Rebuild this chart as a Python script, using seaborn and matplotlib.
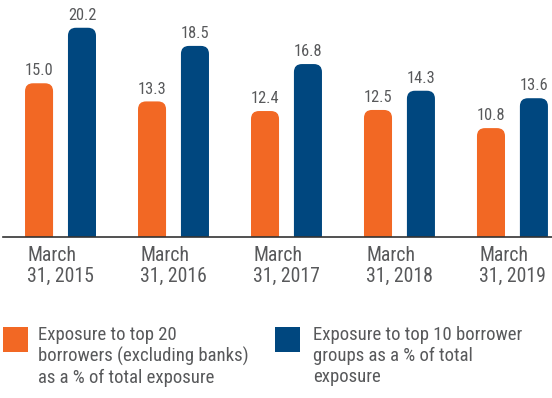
import numpy as np
import pandas as pd
import seaborn as sns
import matplotlib
matplotlib.use("Agg")
import matplotlib.pyplot as plt
from matplotlib.patches import FancyBboxPatch, Rectangle

# ---- data ----
categories = ["March\n31, 2015", "March\n31, 2016", "March\n31, 2017",
              "March\n31, 2018", "March\n31, 2019"]
top20_borrowers = [15.0, 13.3, 12.4, 12.5, 10.8]
top10_groups = [20.2, 18.5, 16.8, 14.3, 13.6]
series_labels = ["Exposure to top 20\nborrowers (excluding banks)\nas a % of total exposure",
                 "Exposure to top 10 borrower\ngroups as a % of total\nexposure"]
colors = ["#F26824", "#00477F"]

df = pd.DataFrame({
    "period": categories * 2,
    "value": top20_borrowers + top10_groups,
    "series": [series_labels[0]] * len(categories) + [series_labels[1]] * len(categories),
})

sns.set_theme(style="white")
plt.rcParams["font.family"] = ["Roboto Condensed", "DejaVu Sans"]
txt_color = "#58595B"

W, H = 552, 398
fig = plt.figure(figsize=(W / 100, H / 100), dpi=100)
ax = fig.add_axes([3 / W, 161 / H, 549 / W, 237 / H])

sns.barplot(data=df, x="period", y="value", hue="series", palette=colors,
            width=0.76, gap=0.347, saturation=1, legend=False, ax=ax)

x0, x1 = -0.509, 4.35
y0, y1 = 0.6, 22.8
ax.set_xlim(x0, x1)
ax.set_ylim(y0, y1)

# rounded tops
px_per_x = 549 / (x1 - x0)
px_per_y = 237 / (y1 - y0)
r_px = 8.0
r_x = r_px / px_per_x
aspect = (r_px / px_per_y) / r_x

for p in list(ax.patches):
    x, w, h, y = p.get_x(), p.get_width(), p.get_height(), p.get_y()
    fc = p.get_facecolor()
    ax.annotate(f"{h:.1f}", (x + w / 2, y + h), xytext=(0, 3.5),
                textcoords="offset points", ha="center", va="bottom",
                fontsize=11.8, color=txt_color)
    p.remove()
    fb = FancyBboxPatch((x, y), w, h,
                        boxstyle=f"round,pad=0,rounding_size={r_x}",
                        mutation_aspect=aspect, fc=fc, ec="none", clip_on=True)
    ax.add_patch(fb)

for s in ["top", "right", "left"]:
    ax.spines[s].set_visible(False)
ax.spines["bottom"].set_color("#333333")
ax.spines["bottom"].set_linewidth(1.2)
ax.set_yticks([])
ax.set_xlabel("")
ax.set_ylabel("")
ax.tick_params(axis="x", length=0, pad=6.5, labelsize=14.2, labelcolor=txt_color)
for lbl in ax.get_xticklabels():
    lbl.set_multialignment("left")
    lbl.set_linespacing(1.15)

# legend (manual)
leg_pos = [(3, 38), (275, 313)]
for (sx, tx), lab, c in zip(leg_pos, series_labels, colors):
    fig.add_artist(Rectangle((sx / W, 1 - 352 / H), 25 / W, 25 / H,
                             transform=fig.transFigure, fc=c, ec="none"))
    fig.text(tx / W, 1 - 326 / H, lab, ha="left", va="top", fontsize=13.5,
             color=txt_color, linespacing=1.2)

fig.savefig("out.png", dpi=100)
